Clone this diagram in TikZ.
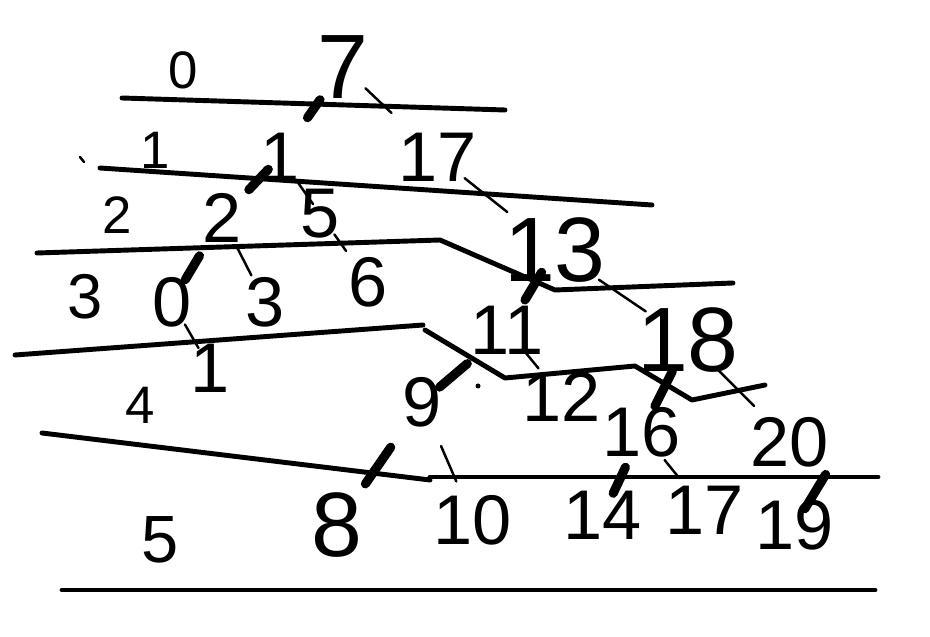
\documentclass[tikz,border=0pt]{standalone}
\usepackage{fontspec}
\setmainfont{Liberation Sans}
\tikzset{cut/.style 2 args={shorten <=#1*0.01cm,shorten >=#2*0.01cm}}
\begin{document}
\begin{tikzpicture}[x=0.01cm,y=-0.01cm,line cap=round,line join=round,
   lvl/.style={font=\fontsize{15}{15}\selectfont,inner sep=0pt},
   key/.style={font=\fontsize{20}{20}\selectfont,inner sep=0pt},
   big/.style={key,font=\fontsize{26}{26}\selectfont},
   level/.style={line width=1.4pt},
   lft/.style={line width=2.6pt},
   rgt/.style={line width=0.7pt}]
   \useasboundingbox (0,0) rectangle (930,637);
   \node[lvl] (l0) at (183,70) {0};
   \node[lvl] (l1) at (155,150) {1};
   \node[lvl] (l2) at (117,215) {2};
   \node[lvl,font=\fontsize{18}{18}\selectfont] (l3) at (85,297) {3};
   \node[lvl] (l4) at (140,405) {4};
   \node[lvl,font=\fontsize{19}{19}\selectfont] (l5) at (160,540) {5};
   \node[big] (v7) at (343,67) {7};
   \node[key] (v1) at (280,157) {1};
   \node[key] (v17) at (438,157) {17};
   \node[key] (v2) at (222,218) {2};
   \node[key] (v5) at (320,214) {5};
   \node[big] (v13) at (555,250) {13};
   \node[key] (v0) at (172,302) {0};
   \node[key] (v3) at (265,302) {3};
   \node[key] (v6) at (368,282) {6};
   \node[big] (v18) at (688,340) {18};
   \node[key] (v1b) at (210,368) {1};
   \node[key] (v11) at (507,330) {11};
   \node[key] (v9) at (422,402) {9};
   \node[key] (v12) at (562,397) {12};
   \node[key] (v16) at (642,432) {16};
   \node[key] (v20) at (790,442) {20};
   \node[big] (v8) at (337,525) {8};
   \node[key] (v10) at (473,520) {10};
   \node[key] (v14) at (603,515) {14};
   \node[key] (v17b) at (705,510) {17};
   \node[key] (v19) at (795,525) {19};
   \draw[level] (122,98) -- (505,110);
   \draw[level] (100,168) -- (652,205);
   \draw[level] (37,253) -- (440,240) -- (555,290) -- (733,283);
   \draw[level] (15,355) -- (423,325);
   \draw[level] (425,330) -- (505,378) -- (635,366) -- (692,400) -- (765,385);
   \draw[level] (42,433) -- (430,480);
   \draw[level] (430,477) -- (878,477);
   \draw[level] (62,590) -- (875,590);
   \draw[lft,cut={40}{48}] (v7.center) -- (v1.center);
   \draw[rgt,cut={31}{64}] (v7.center) -- (v17.center);
   \draw[lft,cut={17}{39}] (v1.center) -- (v2.center);
   \draw[rgt,cut={30}{12}] (v1.center) -- (v5.center);
   \draw[rgt,cut={34}{61}] (v17.center) -- (v13.center);
   \draw[lft,cut={44}{26}] (v2.center) -- (v0.center);
   \draw[rgt,cut={34}{30}] (v2.center) -- (v3.center);
   \draw[rgt,cut={25}{38}] (v5.center) -- (v6.center);
   \draw[lft,cut={26}{35}] (v13.center) -- (v11.center);
   \draw[rgt,cut={53}{51}] (v13.center) -- (v18.center);
   \draw[rgt,cut={26}{23}] (v0.center) -- (v1b.center);
   \draw[lft,cut={52}{23}] (v11.center) -- (v9.center);
   \draw[rgt,cut={30}{37}] (v11.center) -- (v12.center);
   \draw[lft,cut={35}{29}] (v18.center) -- (v16.center);
   \draw[rgt,cut={41}{51}] (v18.center) -- (v20.center);
   \draw[lft,cut={55}{50}] (v9.center) -- (v8.center);
   \draw[rgt,cut={48}{42}] (v9.center) -- (v10.center);
   \draw[lft,cut={39}{24}] (v16.center) -- (v14.center);
   \draw[rgt,cut={36}{41}] (v16.center) -- (v17b.center);
   \draw[lft,cut={8}{19}] (v20.south east) -- (v19.center);
   \fill (478,386) circle (2.5);
   \draw[rgt] (80,157) -- (84,162);
\end{tikzpicture}
\end{document}
